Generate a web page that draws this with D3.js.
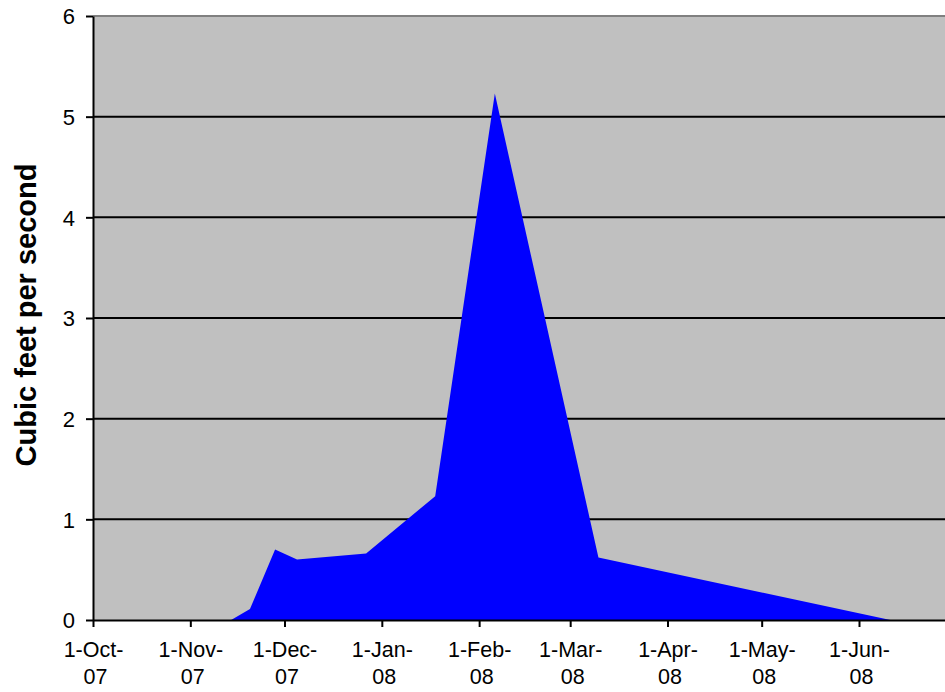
<!DOCTYPE html>
<html>
<head>
<meta charset="utf-8">
<script src="https://cdn.jsdelivr.net/npm/d3@7"></script>
<style>
  html, body { margin: 0; padding: 0; background: #fff; }
  svg { display: block; }
  text { font-family: "Liberation Sans", Arial, Helvetica, sans-serif; fill: #000; }
</style>
</head>
<body>
<svg id="chart" width="945" height="692"></svg>
<script>
// Daily discharge readings (cubic feet per second)
const dates = ["2007-10-01", "2007-11-14", "2007-11-20", "2007-11-28", "2007-12-05",
               "2007-12-27", "2008-01-18", "2008-02-06", "2008-03-10", "2008-06-11", "2008-06-30"];
const flow  = [0, 0, 0.11, 0.70, 0.60, 0.66, 1.23, 5.23, 0.62, 0, 0];

// Axis ticks
const monthTicks = ["2007-10-01", "2007-11-01", "2007-12-01", "2008-01-01", "2008-02-01",
                    "2008-03-01", "2008-04-01", "2008-05-01", "2008-06-01"];
const yTicks = [0, 1, 2, 3, 4, 5, 6];
const yTitle = "Cubic feet per second";

const parse = d3.utcParse("%Y-%m-%d");
const data = dates.map((d, i) => ({ date: parse(d), value: flow[i] }));

const svg = d3.select("#chart");
const plotLeft = 93, plotTop = 16, plotBottom = 620;
const pxPerDay = (859 - 93) / 244;
const start = parse("2007-10-01"), end = parse("2008-07-01");
const plotRight = plotLeft + pxPerDay * (end - start) / 864e5;

const x = d3.scaleUtc().domain([start, end]).range([plotLeft, plotRight]);
const y = d3.scaleLinear().domain([0, 6]).range([plotBottom, plotTop]);

// Plot background
svg.append("rect")
  .attr("x", plotLeft).attr("y", plotTop)
  .attr("width", plotRight - plotLeft).attr("height", plotBottom - plotTop)
  .attr("fill", "#c0c0c0");

// Top border
svg.append("line")
  .attr("x1", plotLeft).attr("x2", plotRight)
  .attr("y1", plotTop).attr("y2", plotTop)
  .attr("stroke", "#808080").attr("stroke-width", 2);

// Horizontal gridlines
svg.append("g")
  .selectAll("line")
  .data(yTicks.filter(v => v > 0 && v < 6))
  .join("line")
  .attr("x1", plotLeft).attr("x2", plotRight)
  .attr("y1", d => y(d)).attr("y2", d => y(d))
  .attr("stroke", "#000").attr("stroke-width", 2);

// Discharge area
const area = d3.area()
  .x(d => x(d.date))
  .y0(y(0))
  .y1(d => y(d.value));

svg.append("path")
  .datum(data)
  .attr("d", area)
  .attr("fill", "#0000ff");

// Y axis
const yAxis = svg.append("g")
  .attr("transform", `translate(${plotLeft},0)`)
  .call(d3.axisLeft(y).tickValues(yTicks).tickFormat(d3.format("d")).tickSize(7).tickSizeOuter(0).tickPadding(11));
yAxis.select(".domain").attr("stroke", "#000").attr("stroke-width", 2);
yAxis.selectAll(".tick line").attr("stroke", "#000").attr("stroke-width", 2);
yAxis.selectAll(".tick text").attr("font-size", 22).attr("dy", "0.36em");

// X axis
const fmt = d3.utcFormat("%-d-%b-|%y");
const xAxis = svg.append("g")
  .attr("transform", `translate(0,${plotBottom})`)
  .call(d3.axisBottom(x).tickValues(monthTicks.map(parse)).tickSize(7).tickSizeOuter(0).tickFormat(() => ""));
xAxis.select(".domain").attr("stroke", "#000").attr("stroke-width", 2);
xAxis.selectAll(".tick line").attr("stroke", "#000").attr("stroke-width", 2);
xAxis.selectAll(".tick text").remove();
xAxis.selectAll(".tick").each(function (d) {
  const parts = fmt(d).split("|");
  const t = d3.select(this).append("text")
    .attr("font-size", 21.5)
    .attr("text-anchor", "middle");
  t.append("tspan").attr("x", 0).attr("y", 37).text(parts[0]);
  t.append("tspan").attr("x", 2).attr("y", 64).text(parts[1]);
});

// Y axis title
svg.append("text")
  .attr("transform", `translate(36,${(163 + 467) / 2}) rotate(-90)`)
  .attr("text-anchor", "middle")
  .attr("font-size", 29)
  .attr("font-weight", "bold")
  .text(yTitle);
</script>
</body>
</html>
